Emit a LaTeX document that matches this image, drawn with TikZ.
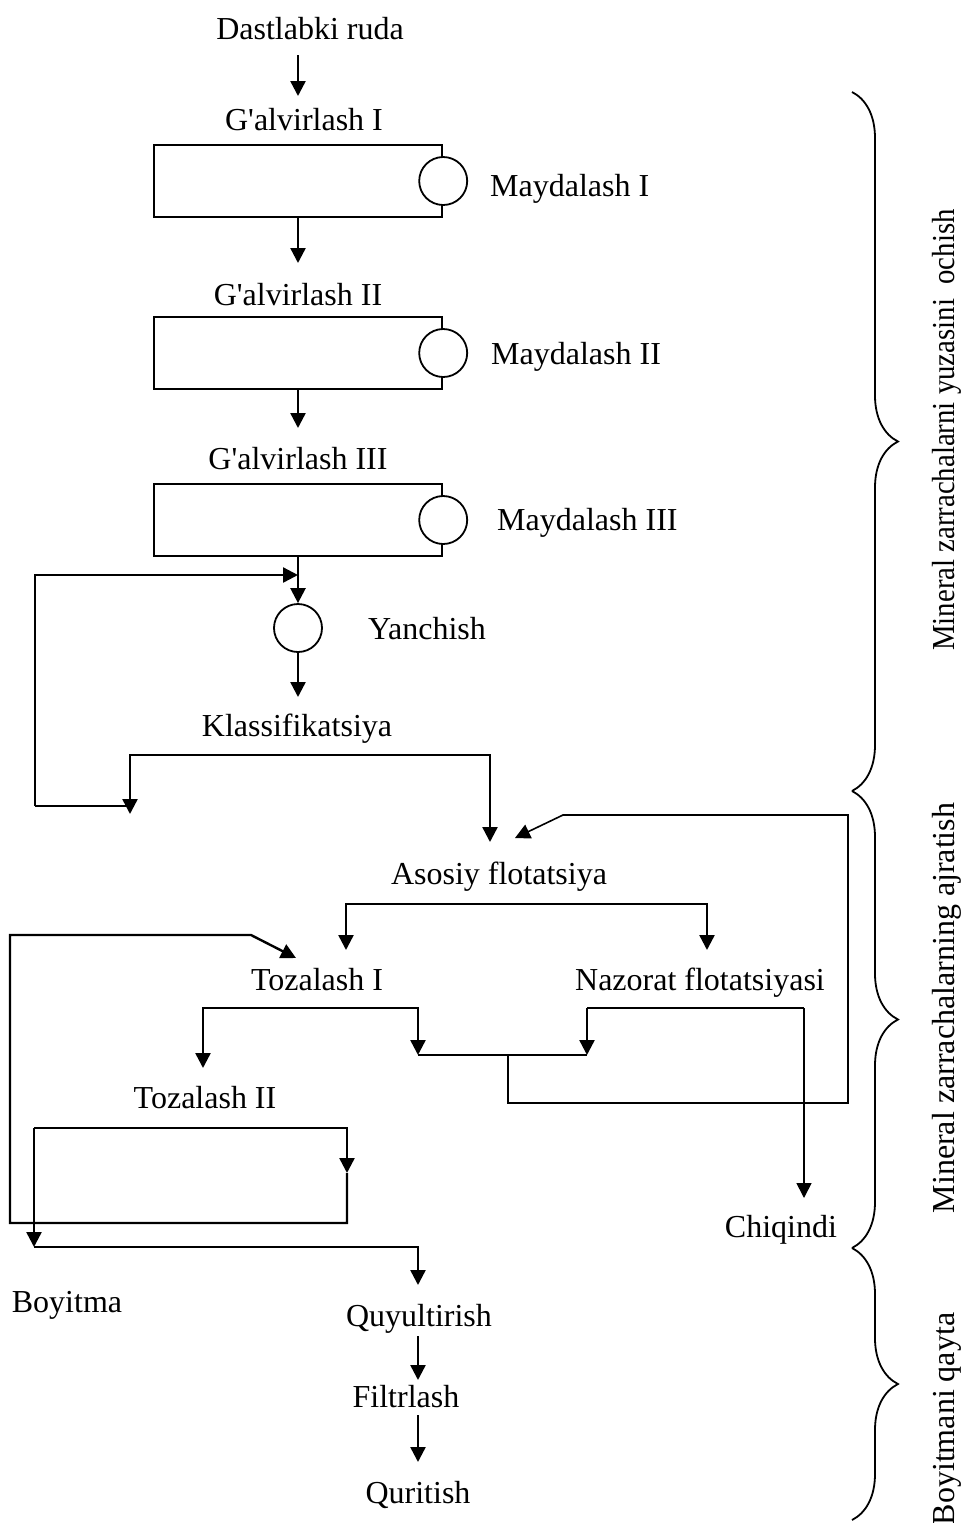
\documentclass[tikz,border=0pt]{standalone}
\usepackage{fontspec}
\newfontfamily\uzfont{Liberation Serif}
\usetikzlibrary{arrows}
\usetikzlibrary{arrows.meta}
\usetikzlibrary{decorations.pathreplacing}
\tikzset{
	main node/.style={circle,draw,fill=white,line width=0.9pt,minimum size=24pt,inner sep=0pt},
	box node/.style={draw,minimum width=144pt,minimum height=36pt,inner sep=0pt},
	word/.style={anchor=base,inner sep=0pt,font=\uzfont\fontsize{16}{19}\selectfont},
	side/.style={word,anchor=center,rotate=90},
	thin line/.style={line width=0.8pt},
	bracket/.style={-,line width=0.9pt,decorate,decoration={brace,amplitude=23pt}}
}

\begin{document}
\begin{tikzpicture}[->,>={Triangle[length=7.5pt,width=7.5pt]},x=0.5pt,y=-0.5pt,line width=1.2pt]
	\useasboundingbox (0,0) rectangle (963,1523);
	% crushing and screening
	\node [word] (1) at (310,39) {Dastlabki ruda};
	\node [word] (2) at (304,130) {G'alvirlash I};
	\node [box node] (3) at (298,181) {};
	\node [main node] (4) at (3.east) {};
	\node [word,anchor=base west] (5) at (489,196) {Maydalash I};
	\node [word] (6) at (298,305) {G'alvirlash II};
	\node [box node] (7) at (298,353) {};
	\node [main node] (8) at (7.east) {};
	\node [word,anchor=base west] (9) at (490,364) {Maydalash II};
	\node [word] (10) at (298,469) {G'alvirlash III};
	\node [box node] (11) at (298,520) {};
	\node [main node] (12) at (11.east) {};
	\node [word,anchor=base west] (13) at (496,530) {Maydalash III};
	\node [main node] (14) at (298,628) {};
	\node [word,anchor=base west] (15) at (367,639) {Yanchish};
	\node [word] (16) at (297,736) {Klassifikatsiya};
	% flotation
	\node [word] (17) at (499,884) {Asosiy flotatsiya};
	\node [word] (18) at (317,990) {Tozalash I};
	\node [word] (19) at (700,990) {Nazorat flotatsiyasi};
	\node [word] (20) at (205,1108) {Tozalash II};
	\node [word] (21) at (781,1237) {Chiqindi};
	\node [word] (22) at (67,1312) {Boyitma};
	\node [word] (23) at (419,1326) {Quyultirish};
	\node [word] (24) at (406,1407) {Filtrlash};
	\node [word] (25) at (418,1503) {Quritish};
	% stages
	\node [side] (26) at (947,430) {\scalebox{0.9}[1]{Mineral zarrachalarni yuzasini\ \ ochish}};
	\node [side] (27) at (947,1008) {Mineral zarrachalarning ajratish};
	\node [side] (28) at (947,1419) {Boyitmani qayta};

	\coordinate (c1) at (298,55);
	\coordinate (c2) at (298,96);
	\coordinate (c3) at (298,263);
	\coordinate (c4) at (298,428);
	\coordinate (c5) at (35,806);
	\coordinate (c6) at (35,575);
	\coordinate (c7) at (298,575);
	\coordinate (c8) at (130,806);
	\coordinate (c9) at (298,697);
	\coordinate (c10) at (130,755);
	\coordinate (c11) at (490,755);
	\coordinate (c12) at (130,814);
	\coordinate (c13) at (490,842);
	\coordinate (c14) at (848,815);
	\coordinate (c15) at (563,815);
	\coordinate (c16) at (515,838);
	\coordinate (c17) at (848,1103);
	\coordinate (c18) at (508,1103);
	\coordinate (c19) at (508,1055);
	\coordinate (c20) at (418,1055);
	\coordinate (c21) at (587,1055);
	\coordinate (c22) at (346,904);
	\coordinate (c23) at (707,904);
	\coordinate (c24) at (346,950);
	\coordinate (c25) at (707,950);
	\coordinate (c26) at (203,1008);
	\coordinate (c27) at (418,1008);
	\coordinate (c28) at (203,1068);
	\coordinate (c29) at (587,1008);
	\coordinate (c30) at (804,1008);
	\coordinate (c31) at (804,1198);
	\coordinate (c32) at (347,1128);
	\coordinate (c33) at (347,1173);
	\coordinate (c34) at (347,1223);
	\coordinate (c35) at (10,1223);
	\coordinate (c36) at (10,935);
	\coordinate (c37) at (251,935);
	\coordinate (c38) at (296,958);
	\coordinate (c39) at (34,1128);
	\coordinate (c40) at (34,1247);
	\coordinate (c41) at (418,1247);
	\coordinate (c42) at (418,1285);
	\coordinate (c43) at (418,1336);
	\coordinate (c44) at (418,1380);
	\coordinate (c45) at (418,1415);
	\coordinate (c46) at (418,1462);

	\draw (c1) -- (c2);
	\draw (3.south) -- (c3);
	\draw (7.south) -- (c4);
	\draw (11.south) -- (14.north);
	\draw (c5) -- (c6) -- (c7);
	\draw [-] (c5) -- (c8);
	\draw (14.south) -- (c9);
	\draw [<->] (c12) -- (c10) -- (c11) -- (c13);
	\draw [thin line] (c19) -- (c18) -- (c17) -- (c14) -- (c15) -- (c16);
	\draw [-] (c20) -- (c21);
	\draw [<->] (c24) -- (c22) -- (c23) -- (c25);
	\draw [<->] (c28) -- (c26) -- (c27) -- (c20);
	\draw (c29) -- (c21);
	\draw [thin line,-] (c29) -- (c30);
	\draw [thin line] (c30) -- (c31);
	\draw (c39) -- (c32) -- (c33);
	\draw (c33) -- (c34) -- (c35) -- (c36) -- (c37) -- (c38);
	\draw (c39) -- (c40);
	\draw (c40) -- (c41) -- (c42);
	\draw (c43) -- (c44);
	\draw (c45) -- (c46);

	\coordinate (b0) at (852,92);
	\coordinate (b1) at (852,791);
	\coordinate (b2) at (852,1248);
	\coordinate (b3) at (852,1520);
	\draw [bracket] (b0) -- (b1);
	\draw [bracket] (b1) -- (b2);
	\draw [bracket] (b2) -- (b3);
\end{tikzpicture}
\end{document}
